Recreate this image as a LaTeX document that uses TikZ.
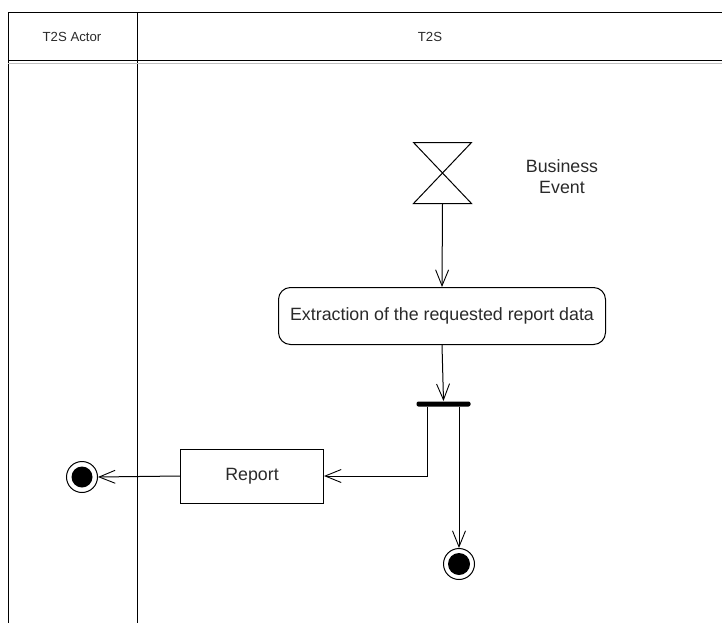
\documentclass[tikz,border=0pt]{standalone}
\usepackage{fontspec}
\setmainfont{Liberation Sans}
\usetikzlibrary{arrows.meta}
\definecolor{txt}{HTML}{2A2A2A}
\begin{document}
\begin{tikzpicture}[x=1pt,y=-1pt,line width=1pt,
  arr/.style={-{Straight Barb[length=16pt,width=13pt,line width=0.9pt]}},
  lbl/.style={font=\fontsize{17.8}{21}\selectfont,text=txt},
  hdr/.style={font=\fontsize{13.2}{15}\selectfont,text=txt},
  actbox/.style={draw,rounded corners=12pt,minimum width=327,minimum height=57,lbl},
  objbox/.style={draw,minimum width=143,minimum height=54,lbl},
  finnode/.style={draw,circle,fill=white,minimum size=31,inner sep=0pt},
  forkbar/.style={fill=black,rounded corners=2pt,minimum width=54,minimum height=5,inner sep=0pt}]
\useasboundingbox (0,0) rectangle (722,623);
% swimlane frame
\draw (8,623) -- (8,13) -- (722,13);
\draw (137,13) -- (137,623);
\draw (8,61) -- (722,61);
\draw[gray!50,line width=0.8pt] (8,63.5) -- (722,63.5);
\node[hdr] (h1) at (72,37) {T2S Actor};
\node[hdr] (h2) at (430,37) {T2S};
% business event
\node[minimum width=57,minimum height=60,inner sep=0pt] (ev) at (442.5,173) {};
\draw (ev.north west) -- (ev.north east) -- (ev.south west) -- (ev.south east) -- cycle;
\node[lbl,align=center] (evl) at (562,177) {Business\\Event};
% action
\node[actbox] (act) at (442,316) {Extraction of the requested report data};
% fork
\node[forkbar] (fork) at (443.5,404) {};
% report
\node[objbox] (rep) at (252,476) {Report};
% final nodes
\node[finnode] (fin1) at (82,477) {};
\fill (fin1.center) circle (10.5);
\node[finnode] (fin2) at (459,564) {};
\fill (fin2.center) circle (11);
% connectors
\draw[arr] (ev.south) -- (act.north);
\draw[arr] (act.south) -- (fork.north);
\draw[arr] ([xshift=-16]fork.south) |- (rep.east);
\draw[arr] (fork.south -| fin2.north) -- (fin2.north);
\draw[arr] (rep.west) -- (fin1.east);
\end{tikzpicture}
\end{document}
